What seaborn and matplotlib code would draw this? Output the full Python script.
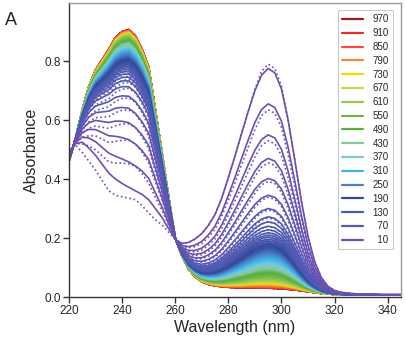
import numpy as np
import pandas as pd
import matplotlib
matplotlib.use("Agg")
import matplotlib.pyplot as plt
import seaborn as sns
from matplotlib.colors import LinearSegmentedColormap
from matplotlib.lines import Line2D

# ---------------- data ----------------
wavelength = np.arange(220, 345.01, 2.5)

# first spectrum (t = 10), fitted curve
spec_start_fit = [0.49, 0.52, 0.525, 0.505, 0.48, 0.45, 0.42, 0.40, 0.385, 0.372,
                  0.36, 0.348, 0.33, 0.30, 0.27, 0.232, 0.195, 0.182, 0.185, 0.197,
                  0.215, 0.243, 0.28, 0.335, 0.405, 0.478, 0.555, 0.63, 0.70, 0.752,
                  0.775, 0.76, 0.705, 0.60, 0.465, 0.325, 0.205, 0.12, 0.066, 0.036,
                  0.022, 0.016, 0.013, 0.011, 0.010, 0.009, 0.009, 0.008, 0.008, 0.008,
                  0.008]
# first spectrum (t = 10), measured (dotted)
spec_start_data = [0.50, 0.515, 0.49, 0.46, 0.43, 0.395, 0.36, 0.345, 0.34, 0.335,
                   0.33, 0.31, 0.285, 0.262, 0.245, 0.22, 0.195, 0.182, 0.185, 0.197,
                   0.215, 0.243, 0.28, 0.335, 0.405, 0.478, 0.555, 0.63, 0.705, 0.765,
                   0.79, 0.775, 0.715, 0.60, 0.465, 0.325, 0.205, 0.12, 0.066, 0.036,
                   0.022, 0.016, 0.013, 0.011, 0.010, 0.009, 0.009, 0.008, 0.008, 0.008,
                   0.008]
# final spectrum (t = 970)
spec_end = [0.46, 0.54, 0.635, 0.715, 0.77, 0.805, 0.84, 0.88, 0.90, 0.907,
            0.885, 0.84, 0.78, 0.635, 0.49, 0.34, 0.20, 0.14, 0.095, 0.068,
            0.052, 0.043, 0.038, 0.035, 0.033, 0.032, 0.031, 0.031, 0.031, 0.030,
            0.030, 0.029, 0.028, 0.026, 0.024, 0.021, 0.018, 0.015, 0.012, 0.010,
            0.009, 0.008, 0.008, 0.007, 0.007, 0.007, 0.007, 0.007, 0.007, 0.007,
            0.007]

times = list(range(10, 971, 10))
# absorbance at 295 nm of each fitted spectrum
peak_fit = [0.775, 0.655, 0.550, 0.470, 0.402, 0.345, 0.300, 0.272, 0.255, 0.240,
            0.228, 0.218, 0.210, 0.203, 0.196, 0.190, 0.184, 0.179, 0.174, 0.169,
            0.165, 0.161, 0.157, 0.153, 0.149, 0.146, 0.143, 0.140, 0.137, 0.134,
            0.131, 0.128, 0.125, 0.122, 0.119, 0.116, 0.113, 0.110, 0.107, 0.104,
            0.101, 0.099, 0.097, 0.095, 0.093, 0.091, 0.089, 0.087, 0.085, 0.083,
            0.081, 0.079, 0.077, 0.075, 0.073, 0.071, 0.069, 0.067, 0.065, 0.063,
            0.061, 0.059, 0.057, 0.055, 0.054, 0.053, 0.052, 0.051, 0.050, 0.049,
            0.048, 0.047, 0.046, 0.045, 0.044, 0.043, 0.042, 0.041, 0.040, 0.039,
            0.038, 0.037, 0.036, 0.0355, 0.035, 0.0345, 0.034, 0.0335, 0.033, 0.0325,
            0.032, 0.0315, 0.031, 0.0307, 0.0304, 0.0302, 0.030]
# absorbance at 295 nm of the first measured (dotted) spectra
peak_data_early = [0.79, 0.635, 0.53, 0.455, 0.392, 0.338, 0.295, 0.268]

legend_times = [970, 910, 850, 790, 730, 670, 610, 550, 490, 430, 370, 310, 250, 190, 130, 70, 10]
legend_colors = ["#9e1a1a", "#e0302e", "#f05040", "#f58a35", "#f2dc00", "#c5d84e",
                 "#94c84e", "#6bb848", "#58b040", "#86c896", "#7ccad6", "#3cb6ee",
                 "#4a7ec6", "#34479a", "#4b5cb0", "#5858b4", "#6e4fb0"]

# ---------------- build table ----------------
s0 = np.array(spec_start_fit)
d0 = np.array(spec_start_data)
s1 = np.array(spec_end)
i295 = int(np.argmin(np.abs(wavelength - 295)))
peak_data = peak_data_early + peak_fit[len(peak_data_early):]

rows = []
for t, hf, hd in zip(times, peak_fit, peak_data):
    p = (s0[i295] - hf) / (s0[i295] - s1[i295])
    q = (d0[i295] - hd) / (d0[i295] - s1[i295])
    fit = (1 - p) * s0 + p * s1
    dat = (1 - q) * d0 + q * s1
    rows.append(pd.DataFrame({"wl": wavelength, "A": fit, "t": t, "kind": "fit"}))
    rows.append(pd.DataFrame({"wl": wavelength, "A": dat, "t": t, "kind": "data"}))
df = pd.concat(rows, ignore_index=True)

pos = [(t - 10) / 960 for t in legend_times[::-1]]
cmap = LinearSegmentedColormap.from_list("kin", list(zip(pos, legend_colors[::-1])))
palette = {t: cmap((t - 10) / 960) for t in times}

# ---------------- plot ----------------
sns.set_theme(style="ticks")
plt.rcParams['font.family'] = ['Liberation Sans', 'DejaVu Sans']

fig = plt.figure(figsize=(4.05, 3.37), dpi=100)
ax = fig.add_axes([69 / 405, 1 - 297 / 337, (401 - 69) / 405, (297 - 3) / 337])

sns.lineplot(data=df, x="wl", y="A", hue="t", style="kind",
             hue_order=times[::-1], style_order=["fit", "data"],
             palette=palette, dashes={"fit": "", "data": (1, 1.6)},
             estimator=None, errorbar=None, sort=False, legend=False,
             linewidth=1.2, ax=ax)

ax.set_xlim(220, 345)
ax.set_ylim(0, 0.997)
ax.set_xticks([220, 240, 260, 280, 300, 320, 340])
ax.set_yticks([0.0, 0.2, 0.4, 0.6, 0.8])
ax.set_yticklabels(["0.0", "0.2", "0.4", "0.6", "0.8"])
ax.set_xlabel("Wavelength (nm)", fontsize=11.5, labelpad=2)
ax.set_ylabel("Absorbance", fontsize=11.5, labelpad=4)
ax.tick_params(axis="both", labelsize=8.5, length=4, width=1, color="#333333",
               direction="out", pad=2)
for s in ["left", "bottom"]:
    ax.spines[s].set_color("#333333")
    ax.spines[s].set_linewidth(1.0)
for s in ["top", "right"]:
    ax.spines[s].set_visible(True)
    ax.spines[s].set_color("#999999")
    ax.spines[s].set_linewidth(1.0)

# right-aligned legend labels (padded with figure spaces)
labels = [str(t).rjust(3, "\u2007") for t in legend_times]
handles = [Line2D([], [], color=c, lw=1.6) for c in legend_colors]
leg = ax.legend(handles, labels, loc="upper right",
                bbox_to_anchor=(0.976, 0.976), borderaxespad=0, fontsize=7,
                frameon=True, handlelength=2.2, handletextpad=0.93,
                labelspacing=0.39, borderpad=0.45, fancybox=True,
                edgecolor="#bbbbbb")
leg.get_frame().set_linewidth(0.8)

fig.text(0.012, 0.965, "A", fontsize=13, ha="left", va="top")

fig.savefig("out.png", dpi=100)
